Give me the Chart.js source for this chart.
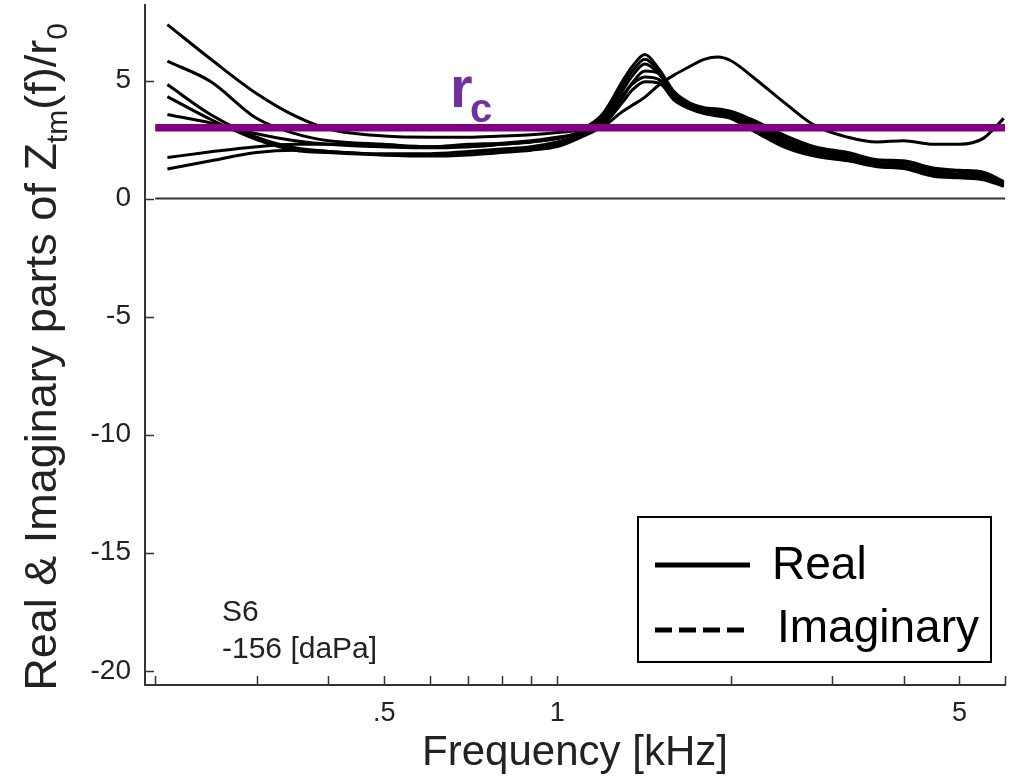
<!DOCTYPE html>
<html>
<head>
<meta charset="utf-8">
<script src="https://cdn.jsdelivr.net/npm/chart.js@4.4.0/dist/chart.umd.min.js"></script>
<style>
  html, body { margin: 0; padding: 0; background: #fff; }
</style>
</head>
<body>
<canvas id="zChart" width="1021" height="778"></canvas>
<script>
// frequency samples in kHz
const freq = [0.21, 0.25, 0.3, 0.35, 0.4, 0.5, 0.6, 0.7, 0.8, 0.9, 1.0, 1.1, 1.2, 1.3, 1.35, 1.42,
  1.5, 1.6, 1.7, 1.8, 1.9, 2.0, 2.2, 2.5, 2.8, 3.2, 3.6, 4.0, 4.5, 5.0, 5.5, 5.97];

// real part of Ztm(f)/r0, one array per measurement
const realA = [7.37, 5.9, 4.45, 3.5, 2.95, 2.65, 2.6, 2.6, 2.65, 2.7, 2.8, 2.95, 3.6, 5.0, 5.6, 6.1,
  5.5, 4.5, 4.05, 3.85, 3.8, 3.7, 3.3, 2.65, 2.2, 1.95, 1.65, 1.6, 1.3, 1.2, 1.12, 0.72];
const realB = [5.82, 4.95, 3.4, 2.75, 2.45, 2.3, 2.2, 2.2, 2.3, 2.4, 2.55, 2.8, 3.5, 4.8, 5.4, 5.9,
  5.4, 4.4, 4.0, 3.8, 3.75, 3.65, 3.2, 2.55, 2.1, 1.9, 1.6, 1.55, 1.25, 1.15, 1.05, 0.68];
const realC = [4.83, 3.55, 2.6, 2.15, 2.0, 1.9, 1.9, 2.0, 2.1, 2.2, 2.4, 2.7, 3.3, 4.6, 5.2, 5.7,
  5.3, 4.35, 3.95, 3.75, 3.7, 3.6, 3.1, 2.45, 2.0, 1.8, 1.5, 1.45, 1.15, 1.05, 0.95, 0.62];
const realD = [4.32, 3.35, 2.5, 2.05, 1.95, 1.85, 1.85, 1.95, 2.05, 2.15, 2.3, 2.65, 3.2, 4.3, 4.9, 5.4,
  5.3, 4.3, 3.9, 3.7, 3.65, 3.55, 3.0, 2.35, 1.95, 1.75, 1.45, 1.35, 1.05, 0.97, 0.9, 0.58];
const realE = [3.56, 3.2, 2.75, 2.45, 2.3, 2.2, 2.2, 2.3, 2.35, 2.45, 2.6, 2.75, 3.05, 3.7, 3.95, 4.3,
  4.8, 5.25, 5.6, 5.9, 6.0, 5.85, 5.1, 4.0, 3.1, 2.6, 2.4, 2.45, 2.3, 2.3, 2.55, 3.4];
const realF = [1.74, 1.98, 2.2, 2.3, 2.3, 2.2, 2.15, 2.2, 2.3, 2.4, 2.55, 2.85, 3.4, 4.4, 4.85, 5.15,
  5.05, 4.2, 3.85, 3.65, 3.6, 3.5, 2.95, 2.25, 1.88, 1.68, 1.4, 1.3, 1.0, 0.92, 0.85, 0.55];
const realG = [1.25, 1.6, 1.95, 2.05, 2.0, 1.85, 1.8, 1.85, 1.95, 2.05, 2.2, 2.6, 3.1, 4.1, 4.6, 4.95,
  4.9, 4.15, 3.8, 3.6, 3.5, 3.4, 2.85, 2.15, 1.8, 1.6, 1.35, 1.27, 0.95, 0.88, 0.8, 0.52];

const rcLevel = 3;         // characteristic resistance r_c
const lineSpan = [0.2, 6]; // extent of the r_c and zero lines

const xTicks = [0.2, 0.3, 0.4, 0.5, 0.6, 0.7, 0.8, 0.9, 1, 2, 3, 4, 5, 6];
const xTickLabels = ['', '', '', '.5', '', '', '', '', '1', '', '', '', '5', ''];
const yTicks = [-20, -15, -10, -5, 0, 5];

const FONT = "'Liberation Sans', Arial, Helvetica, sans-serif";
const INK = '#222';

function pts(ys) {
  return freq.map((f, i) => ({ x: f, y: ys[i] }));
}

let datasets = [
  {
    data: lineSpan.map(f => ({ x: f, y: rcLevel })),
    borderColor: '#800080', borderWidth: 7.5, tension: 0
  },
  {
    data: lineSpan.map(f => ({ x: f, y: 0 })),
    borderColor: '#333', borderWidth: 2, tension: 0
  }
];
[realA, realB, realC, realD, realE, realF, realG].forEach(ys => {
  datasets.push({
    data: pts(ys),
    borderColor: '#000',
    borderWidth: 3,
    cubicInterpolationMode: 'monotone'
  });
});

// text with subscripts, parts = [[text, isSub], ...]
function richWidth(ctx, parts, size, subSize) {
  let w = 0;
  parts.forEach(p => {
    ctx.font = (p[1] ? subSize : size) + 'px ' + FONT;
    w += ctx.measureText(p[0]).width;
  });
  return w;
}
function drawRich(ctx, parts, x, y, size, subSize, subShift) {
  parts.forEach(p => {
    ctx.font = (p[1] ? subSize : size) + 'px ' + FONT;
    ctx.fillText(p[0], x, p[1] ? y + subShift : y);
    x += ctx.measureText(p[0]).width;
  });
}

const decorations = {
  id: 'decorations',
  afterDatasetsDraw(chart) {
    const ctx = chart.ctx;
    const area = chart.chartArea;
    const xs = chart.scales.x, ys = chart.scales.y;
    ctx.save();

    // inward tick marks
    ctx.strokeStyle = '#333';
    ctx.lineWidth = 1.5;
    ctx.beginPath();
    xTicks.forEach(v => {
      const px = Math.round(xs.getPixelForValue(v)) + 0.5;
      ctx.moveTo(px, area.bottom);
      ctx.lineTo(px, area.bottom - 9);
    });
    yTicks.forEach(v => {
      const py = Math.round(ys.getPixelForValue(v)) + 0.5;
      ctx.moveTo(area.left, py);
      ctx.lineTo(area.left + 9, py);
    });
    ctx.stroke();

    // r_c label
    ctx.fillStyle = '#7030A0';
    ctx.textBaseline = 'alphabetic';
    ctx.textAlign = 'left';
    ctx.font = 'bold 58px ' + FONT;
    ctx.fillText('r', 450, 107);
    ctx.font = 'bold 40px ' + FONT;
    ctx.fillText('c', 470, 122);

    // subject / pressure note
    ctx.fillStyle = INK;
    ctx.font = '30px ' + FONT;
    ctx.textBaseline = 'middle';
    ctx.fillText('S6', 222, 613);
    ctx.fillText('-156 [daPa]', 222, 650);

    // legend box
    const lx = area.right - 367, ly = area.bottom - 168;
    ctx.fillStyle = '#fff';
    ctx.fillRect(lx, ly, 353, 145);
    ctx.strokeStyle = '#000';
    ctx.lineWidth = 2;
    ctx.strokeRect(lx, ly, 353, 145);
    ctx.lineWidth = 5;
    ctx.beginPath();
    ctx.moveTo(lx + 17, ly + 48);
    ctx.lineTo(lx + 112, ly + 48);
    ctx.stroke();
    ctx.setLineDash([17, 7]);
    ctx.beginPath();
    ctx.moveTo(lx + 17, ly + 113);
    ctx.lineTo(lx + 108, ly + 113);
    ctx.stroke();
    ctx.setLineDash([]);
    ctx.fillStyle = '#000';
    ctx.font = '46px ' + FONT;
    ctx.fillText('Real', lx + 134, ly + 49);
    ctx.fillText('Imaginary', lx + 139, ly + 112);

    // axis titles
    ctx.fillStyle = INK;
    ctx.textBaseline = 'alphabetic';
    ctx.textAlign = 'center';
    ctx.font = '42px ' + FONT;
    ctx.fillText('Frequency [kHz]', (area.left + area.right) / 2, 765);

    const yTitle = [['Real & Imaginary parts of Z', false], ['tm', true], ['(f)/r', false], ['0', true]];
    ctx.textAlign = 'left';
    const w = richWidth(ctx, yTitle, 45, 30);
    ctx.translate(56, 357);
    ctx.rotate(-Math.PI / 2);
    drawRich(ctx, yTitle, -w / 2, 0, 45, 30, 11);
    ctx.restore();
  }
};

const chart = new Chart(document.getElementById('zChart'), {
  type: 'line',
  data: { datasets },
  options: {
    responsive: false,
    animation: false,
    layout: { padding: { left: 0, top: 5, right: 16, bottom: 0 } },
    elements: { point: { radius: 0 } },
    plugins: { legend: { display: false }, tooltip: { enabled: false } },
    scales: {
      x: {
        type: 'logarithmic',
        min: 0.192,
        max: 6,
        afterBuildTicks(scale) { scale.ticks = xTicks.map(v => ({ value: v })); },
        afterFit(scale) {
          scale.height = 93;
          scale.paddingLeft = 0;
          scale.paddingRight = 0;
        },
        grid: { drawOnChartArea: false, drawTicks: false },
        border: { display: true, color: '#333', width: 2 },
        ticks: {
          autoSkip: false, maxRotation: 0, padding: 12, color: INK,
          font: { family: FONT, size: 27 },
          callback: (v, i) => xTickLabels[i]
        }
      },
      y: {
        min: -20.6,
        max: 8.2,
        afterBuildTicks(scale) { scale.ticks = yTicks.map(v => ({ value: v })); },
        afterFit(scale) {
          scale.width = 145;
          scale.paddingTop = 0;
          scale.paddingBottom = 0;
        },
        grid: { drawOnChartArea: false, drawTicks: false },
        border: { display: true, color: '#333', width: 2 },
        ticks: {
          padding: 14, color: INK,
          font: { family: FONT, size: 28 }
        }
      }
    }
  },
  plugins: [decorations]
});
</script>
</body>
</html>
